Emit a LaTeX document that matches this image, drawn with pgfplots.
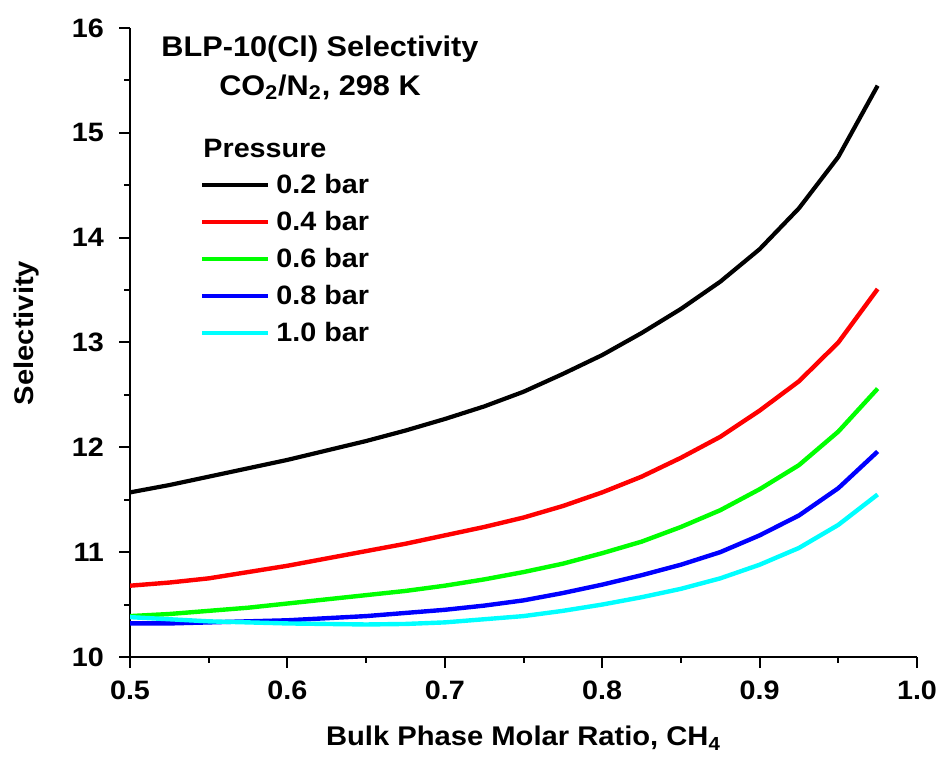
\documentclass[border=0pt]{standalone}
\usepackage{fontspec}
\setmainfont{Liberation Sans}[FakeStretch=1.08]
\usepackage{pgfplots}
\pgfplotsset{compat=1.18}
\definecolor{cgreen}{RGB}{0,255,0}
\definecolor{cblue}{RGB}{0,0,255}
\definecolor{ccyan}{RGB}{0,255,255}
\newcommand{\lblfont}{\fontsize{13.5}{13.5}\selectfont\bfseries}
\newcommand{\tckfont}{\fontsize{13.3}{13.3}\selectfont\bfseries}
\newcommand{\ttlfont}{\fontsize{14.2}{14.2}\selectfont\bfseries}
\newcommand{\legfont}{\fontsize{13.3}{13.3}\selectfont\bfseries}

\begin{document}
\begin{tikzpicture}
\begin{axis}[
  scale only axis,
  width=393.5pt, height=314.5pt,
  xmin=0.5, xmax=1.0, ymin=10, ymax=16,
  axis x line=bottom, axis y line=left,
  axis line style={-, line width=1pt},
  tick align=outside,
  major tick length=5.5pt, minor tick length=3pt,
  every tick/.style={black, line width=1pt},
  xtick={0.5,0.6,0.7,0.8,0.9,1.0},
  ytick={10,11,12,13,14,15,16},
  minor x tick num=1, minor y tick num=1,
  ticklabel style={font=\tckfont},
  /pgf/number format/assume math mode=true,
  xticklabel style={yshift=-3pt, /pgf/number format/.cd, fixed, fixed zerofill, precision=1},
  yticklabel style={xshift=-4pt},
  xlabel={Bulk Phase Molar Ratio, CH\textsubscript{4}},
  ylabel={Selectivity},
  label style={font=\lblfont},
  xlabel style={at={(axis description cs:0.5,-0.129)}, anchor=center},
  ylabel style={at={(axis description cs:-0.131,0.515)}, anchor=center},
  legend style={at={(axis description cs:0.089,0.768)}, anchor=north west,
    draw=none, fill=none, inner sep=0pt, row sep=8pt, column sep=2pt,
    font=\legfont, nodes={inner sep=1pt, text height=8.5pt, text depth=0pt}},
  legend cell align=left,
  legend image code/.code={\draw[#1, line width=2pt] (0pt,0pt) -- (33pt,0pt);},
]
\addplot[black, line width=2.1pt] coordinates {
(0.500,11.57) (0.525,11.64) (0.550,11.72) (0.575,11.80) (0.600,11.88)
(0.625,11.97) (0.650,12.06) (0.675,12.16) (0.700,12.27) (0.725,12.39)
(0.750,12.53) (0.775,12.70) (0.800,12.88) (0.825,13.09) (0.850,13.32)
(0.875,13.58) (0.900,13.89) (0.925,14.28) (0.950,14.77) (0.975,15.45)};
\addlegendentry{0.2 bar}
\addplot[red, line width=2.2pt] coordinates {
(0.500,10.68) (0.525,10.71) (0.550,10.75) (0.575,10.81) (0.600,10.87)
(0.625,10.94) (0.650,11.01) (0.675,11.08) (0.700,11.16) (0.725,11.24)
(0.750,11.33) (0.775,11.44) (0.800,11.57) (0.825,11.72) (0.850,11.90)
(0.875,12.10) (0.900,12.35) (0.925,12.63) (0.950,13.00) (0.975,13.51)};
\addlegendentry{0.4 bar}
\addplot[cgreen, line width=2.2pt] coordinates {
(0.500,10.39) (0.525,10.41) (0.550,10.44) (0.575,10.47) (0.600,10.51)
(0.625,10.55) (0.650,10.59) (0.675,10.63) (0.700,10.68) (0.725,10.74)
(0.750,10.81) (0.775,10.89) (0.800,10.99) (0.825,11.10) (0.850,11.24)
(0.875,11.40) (0.900,11.60) (0.925,11.83) (0.950,12.15) (0.975,12.56)};
\addlegendentry{0.6 bar}
\addplot[cblue, line width=2.2pt] coordinates {
(0.500,10.32) (0.525,10.32) (0.550,10.33) (0.575,10.34) (0.600,10.35)
(0.625,10.37) (0.650,10.39) (0.675,10.42) (0.700,10.45) (0.725,10.49)
(0.750,10.54) (0.775,10.61) (0.800,10.69) (0.825,10.78) (0.850,10.88)
(0.875,11.00) (0.900,11.16) (0.925,11.35) (0.950,11.61) (0.975,11.96)};
\addlegendentry{0.8 bar}
\addplot[ccyan, line width=2.2pt] coordinates {
(0.500,10.38) (0.525,10.36) (0.550,10.34) (0.575,10.33) (0.600,10.32)
(0.625,10.315) (0.650,10.31) (0.675,10.315) (0.700,10.33) (0.725,10.36)
(0.750,10.39) (0.775,10.44) (0.800,10.50) (0.825,10.57) (0.850,10.65)
(0.875,10.75) (0.900,10.88) (0.925,11.04) (0.950,11.26) (0.975,11.55)};
\addlegendentry{1.0 bar}
\node[font=\ttlfont, anchor=base] at (axis cs:0.6207,15.724) {BLP-10(Cl) Selectivity};
\node[font=\ttlfont, anchor=base] at (axis cs:0.6207,15.36) {CO\textsubscript{2}/N\textsubscript{2}, 298 K};
\node[font=\legfont, anchor=base west, inner sep=0pt] at (axis cs:0.5464,14.76) {Pressure};
\end{axis}
\pgfresetboundingbox
\path ([shift={(-65pt,-54.5pt)}]current axis.south west)
  rectangle ([shift={(12pt,14pt)}]current axis.north east);
\end{tikzpicture}
\end{document}
